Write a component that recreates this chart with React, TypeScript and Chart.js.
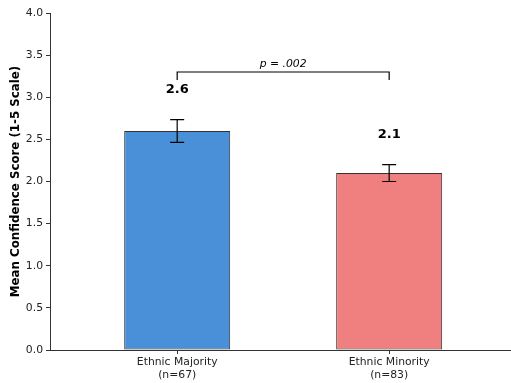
import React, { useEffect, useRef } from "react";
import { Chart, registerables } from "chart.js";

Chart.register(...registerables);

const categories = ["Ethnic Majority", "Ethnic Minority"];
const sampleSizes = [67, 83];
const means = [2.6, 2.1];
const errors = [0.135, 0.1];
const barColors = ["#4a90d9", "#f08080"];
const pLabel = "p = .002";
const bracketLevel = 3.3;
const bracketDrop = 0.095;
const pTextLevel = 3.36;
const valueLabelOffset = 0.32;

const FONT = "'DejaVu Sans', sans-serif";

const annotPlugin = {
  id: "annot",
  afterDatasetsDraw(chart: any) {
    const { ctx } = chart;
    const x = chart.scales.x;
    const y = chart.scales.y;
    ctx.save();
    ctx.strokeStyle = "#000";
    ctx.lineWidth = 1.2;
    means.forEach((m, i) => {
      const px = x.getPixelForValue(i);
      const top = y.getPixelForValue(m + errors[i]);
      const bot = y.getPixelForValue(m - errors[i]);
      ctx.beginPath();
      ctx.moveTo(px, top);
      ctx.lineTo(px, bot);
      ctx.moveTo(px - 7, top);
      ctx.lineTo(px + 7, top);
      ctx.moveTo(px - 7, bot);
      ctx.lineTo(px + 7, bot);
      ctx.stroke();
      ctx.fillStyle = "#000";
      ctx.font = `bold 13px ${FONT}`;
      ctx.textAlign = "center";
      ctx.textBaseline = "alphabetic";
      ctx.fillText(m.toFixed(1), px, y.getPixelForValue(m + errors[i] + valueLabelOffset));
    });
    const x0 = x.getPixelForValue(0);
    const x1 = x.getPixelForValue(1);
    const yb = y.getPixelForValue(bracketLevel);
    const yd = y.getPixelForValue(bracketLevel - bracketDrop);
    ctx.beginPath();
    ctx.moveTo(x0, yd);
    ctx.lineTo(x0, yb);
    ctx.lineTo(x1, yb);
    ctx.lineTo(x1, yd);
    ctx.stroke();
    ctx.font = `italic 10.8px ${FONT}`;
    ctx.textAlign = "center";
    ctx.textBaseline = "alphabetic";
    ctx.fillStyle = "#000";
    ctx.fillText(pLabel, (x0 + x1) / 2, y.getPixelForValue(pTextLevel));
    ctx.restore();
  },
};

export default function App() {
  const ref = useRef<HTMLCanvasElement>(null);
  useEffect(() => {
    if (!ref.current) return;
    const chart = new Chart(ref.current, {
      type: "bar",
      data: {
        datasets: [
          {
            data: means.map((m, i) => ({ x: i, y: m })),
            backgroundColor: barColors,
            borderColor: "#333",
            borderWidth: 1,
            borderSkipped: false,
            categoryPercentage: 1,
            barPercentage: 0.5,
          } as any,
        ],
      },
      options: {
        animation: false,
        responsive: false,
        layout: { padding: { top: 13, right: 1, left: 0, bottom: 0 } },
        plugins: { legend: { display: false }, tooltip: { enabled: false } },
        scales: {
          x: {
            type: "linear",
            min: -0.6,
            max: 1.57,
            offset: false,
            afterBuildTicks: (s: any) => {
              s.ticks = categories.map((_, i) => ({ value: i }));
            },
            afterFit: (s: any) => {
              s.height = 33;
            },
            ticks: {
              color: "#222",
              font: { family: FONT, size: 10.8 },
              padding: 2,
              maxRotation: 0,
              autoSkip: false,
              callback: (v: any) => [categories[v], `(n=${sampleSizes[v]})`],
            },
            grid: { offset: false, drawOnChartArea: false, drawTicks: true, tickLength: 4, color: "#333" },
            border: { display: true, color: "#333", width: 1 },
          },
          y: {
            min: 0,
            max: 4,
            afterFit: (s: any) => {
              s.width = 50;
            },
            ticks: {
              stepSize: 0.5,
              color: "#222",
              font: { family: FONT, size: 10.8 },
              padding: 3,
              callback: (v: any) => Number(v).toFixed(1),
            },
            title: {
              display: true,
              text: "Mean Confidence Score (1-5 Scale)",
              color: "#000",
              font: { family: FONT, size: 11.8, weight: "bold" },
              padding: { top: 9, bottom: 2 },
            },
            grid: { drawOnChartArea: false, drawTicks: true, tickLength: 4, color: "#333" },
            border: { display: true, color: "#333", width: 1 },
          },
        },
      } as any,
      plugins: [annotPlugin],
    });
    return () => chart.destroy();
  }, []);
  return (
    <div style={{ position: "absolute", left: 0, top: 0, width: 511, height: 383, background: "#fff" }}>
      <canvas ref={ref} width={511} height={383} style={{ display: "block" }} />
    </div>
  );
}
